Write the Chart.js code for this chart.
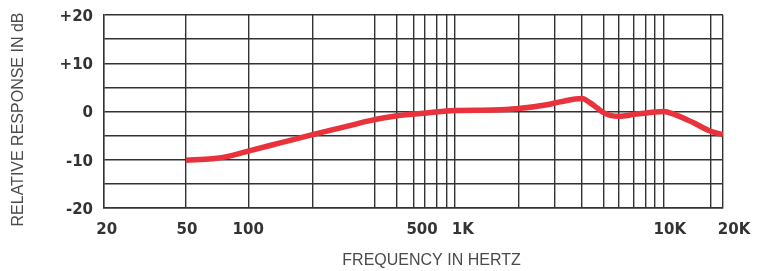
<!DOCTYPE html>
<html>
<head>
<meta charset="utf-8">
<script src="https://cdn.jsdelivr.net/npm/chart.js@4/dist/chart.umd.min.js"></script>
<style>
  html, body { margin: 0; padding: 0; background: #ffffff; }
  #wrap { width: 757px; height: 271px; position: relative; }
</style>
</head>
<body>
<div id="wrap"><canvas id="c" width="757" height="271"></canvas></div>
<script>
// ---- data ----
const freqs = [50, 67, 82, 100, 143, 205, 280, 390, 525, 735, 1000, 1540, 2040, 2800, 3250, 4140, 4540, 4890, 5300, 5680, 6270, 7420, 9380, 10350, 11460, 14330, 17450, 20000];
const dbValues = [-10.1, -9.8, -9.2, -8.2, -6.5, -4.8, -3.4, -1.9, -0.9, -0.3, 0.2, 0.3, 0.6, 1.4, 2.0, 2.7, 1.8, 0.8, -0.3, -0.8, -1.0, -0.6, -0.1, 0.0, -0.5, -2.3, -4.1, -4.8];

// vertical grid lines of the chart (Hz)
const gridFreqs = [20, 50, 100, 205, 410, 525, 635, 720, 820, 920, 1000, 2040, 3070, 4140, 5300, 6270, 7420, 8400, 9380, 10350, 17450, 20000];
// x tick labels and the frequency at which each label sits in the picture
const xTickLabels = ['20', '50', '100', '500', '1K', '10K', '20K'];
const xTickLabelFreqs = [20.6, 50.5, 100, 696, 1096, 11040, 22640];

// y ticks
const yTickValues = [-20, -15, -10, -5, 0, 5, 10, 15, 20];
const yTickLabels = ['-20', '', '-10', '', '0', '', '+10', '', '+20'];

const xTitle = 'FREQUENCY IN HERTZ';
const yTitle = 'RELATIVE RESPONSE IN dB';

const GRID = '#333333';
const TICKFONT = { family: '"DejaVu Sans", sans-serif', size: 15, weight: 'bold' };

const titlePlugin = {
  id: 'axisTitles',
  afterDraw(chart) {
    const ctx = chart.ctx, a = chart.chartArea;
    ctx.save();
    ctx.fillStyle = '#4a4a4a';
    ctx.font = '16px "Liberation Sans", Arial, sans-serif';
    ctx.textAlign = 'center';
    ctx.textBaseline = 'middle';
    ctx.fillText(xTitle, (a.left + a.right) / 2 + 18, a.bottom + 53);
    ctx.translate(a.left - 85, (a.top + a.bottom) / 2 + 8);
    ctx.rotate(-Math.PI / 2);
    ctx.fillText(yTitle, 0, 0);
    ctx.restore();
  }
};

function noPad(s) { s.paddingLeft = 0; s.paddingRight = 0; s.paddingTop = 0; s.paddingBottom = 0; }

new Chart(document.getElementById('c'), {
  type: 'line',
  data: {
    datasets: [{
      data: freqs.map((f, i) => ({ x: f, y: dbValues[i] })),
      borderColor: '#e8323c',
      borderWidth: 5.5,
      pointRadius: 0,
      fill: false,
      cubicInterpolationMode: 'monotone',
      xAxisID: 'x',
      yAxisID: 'y'
    }]
  },
  options: {
    responsive: false,
    animation: false,
    devicePixelRatio: 1,
    layout: { padding: { top: 15, right: 34, bottom: 0, left: 0 } },
    plugins: { legend: { display: false }, tooltip: { enabled: false } },
    scales: {
      x: {
        type: 'logarithmic',
        position: 'bottom',
        min: 20, max: 20000,
        afterBuildTicks: s => { s.ticks = gridFreqs.map(v => ({ value: v })); },
        afterFit: s => { s.height = 0; noPad(s); },
        ticks: { display: false },
        grid: { color: GRID, lineWidth: 1.4, drawTicks: false },
        border: { display: true, color: GRID, width: 1.4 }
      },
      x2: {
        type: 'logarithmic',
        position: 'bottom',
        min: 20, max: 20000,
        afterBuildTicks: s => { s.ticks = xTickLabelFreqs.map(v => ({ value: v })); },
        afterFit: s => { s.height = 63; noPad(s); },
        ticks: {
          autoSkip: false, maxRotation: 0, minRotation: 0,
          padding: 13,
          color: '#333333',
          font: TICKFONT,
          callback: (v, i) => xTickLabels[i]
        },
        grid: { display: false, drawTicks: false },
        border: { display: false }
      },
      y: {
        type: 'linear',
        min: -20, max: 20,
        afterBuildTicks: s => { s.ticks = yTickValues.map(v => ({ value: v })); },
        afterFit: s => { s.width = 104; noPad(s); },
        ticks: {
          autoSkip: false,
          padding: 11,
          labelOffset: 2,
          color: '#333333',
          font: TICKFONT,
          callback: (v, i) => yTickLabels[i]
        },
        grid: { color: GRID, lineWidth: 1.4, drawTicks: false },
        border: { display: true, color: GRID, width: 1.4 }
      }
    }
  },
  plugins: [titlePlugin]
});
</script>
</body>
</html>
